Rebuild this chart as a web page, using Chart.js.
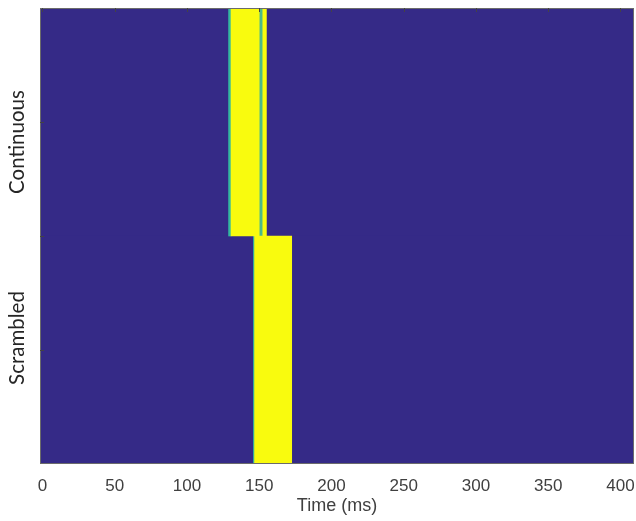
<!DOCTYPE html>
<html>
<head>
<meta charset="utf-8">
<script src="https://cdn.jsdelivr.net/npm/chart.js@4"></script>
<style>
  html, body { margin: 0; padding: 0; background: #fff; }
  #wrap { width: 636px; height: 521px; position: relative; }
</style>
</head>
<body>
<div id="wrap"><canvas id="chartRaster"></canvas></div>
<script>
// ===== significance raster: Continuous vs Scrambled =====

const rows = ['Continuous', 'Scrambled'];
const timeTicks = [0, 50, 100, 150, 200, 250, 300, 350, 400];
const timeSpan = [-1.7, 409.4];

// spans per row (ms), null = nothing in that row
const yellowMain = [[130.5, 150], [146.8, 172.5]];
const yellowTail = [[152.5, 155], null];
const tealLead   = [[128.8, 130.5], [146, 146.8]];
const tealMid    = [[150, 152.5], null];
const baseline   = rows.map(() => timeSpan.slice());

const C = {
  navy:   '#352A87',
  yellow: '#F9FB0E',
  teal:   '#33B7A0',
  teal2:  '#4BBA8A',
  axis:   '#404040',
  label:  '#262626',
  box:    '#6b6b6b'
};

// frame, inner tick marks and the rotated row labels
const framePlugin = {
  id: 'frame',
  afterDraw(chart) {
    const { ctx, chartArea: { left, top, right, bottom } } = chart;
    const xs = chart.scales.x, ys = chart.scales.y;
    ctx.save();
    ctx.strokeStyle = C.box;
    ctx.lineWidth = 1;
    ctx.strokeRect(left + 0.5, top + 0.5, right - left - 1, bottom - top - 1);

    ctx.strokeStyle = '#444';
    ctx.beginPath();
    timeTicks.forEach(v => {
      const px = Math.round(xs.getPixelForValue(v)) + 0.5;
      ctx.moveTo(px, top); ctx.lineTo(px, top + 4);
    });
    [0, 0.5, 1].forEach(v => {
      const py = Math.round(ys.getPixelForValue(v)) + 0.5;
      ctx.moveTo(left, py); ctx.lineTo(left + 4, py);
    });
    ctx.stroke();

    const shift = [20, -12];
    ctx.fillStyle = C.label;
    ctx.font = "20.5px Lato, 'Open Sans', sans-serif";
    ctx.textAlign = 'center';
    ctx.textBaseline = 'middle';
    rows.forEach((name, i) => {
      const py = ys.getPixelForValue(i) + shift[i];
      ctx.save();
      ctx.translate(17, py);
      ctx.rotate(-Math.PI / 2);
      ctx.fillText(name, 0, 0);
      ctx.restore();
    });
    ctx.restore();
  }
};

const span = (data, color) => ({
  data, backgroundColor: color, borderWidth: 0,
  grouped: false, categoryPercentage: 1, barPercentage: 1
});

new Chart(document.getElementById('chartRaster'), {
  type: 'bar',
  data: {
    labels: rows,
    datasets: [
      span(yellowMain, C.yellow),
      span(yellowTail, C.yellow),
      span(tealLead, C.teal),
      span(tealMid, C.teal2),
      span(baseline, C.navy)
    ]
  },
  options: {
    indexAxis: 'y',
    responsive: true, maintainAspectRatio: false,
    animation: false,
    layout: { padding: { top: 8, right: 2, left: 0, bottom: 0 } },
    plugins: { legend: { display: false }, tooltip: { enabled: false } },
    scales: {
      x: {
        type: 'linear',
        min: timeSpan[0], max: timeSpan[1],
        afterBuildTicks: s => { s.ticks = timeTicks.map(v => ({ value: v })); },
        grid: { display: false },
        border: { display: false },
        ticks: { color: C.axis, padding: 4, font: { size: 17, family: "'Liberation Sans', Arial, sans-serif" } },
        title: {
          display: true, text: 'Time (ms)', color: C.axis, padding: { top: 0 },
          font: { size: 18, family: "'Liberation Sans', Arial, sans-serif" }
        },
        afterFit: s => { s.height = 57; s.paddingLeft = 0; s.paddingRight = 0; }
      },
      y: {
        grid: { display: false },
        border: { display: false },
        ticks: { display: false },
        afterFit: s => { s.width = 40; s.paddingTop = 0; s.paddingBottom = 0; }
      }
    }
  },
  plugins: [framePlugin]
});
</script>
</body>
</html>
